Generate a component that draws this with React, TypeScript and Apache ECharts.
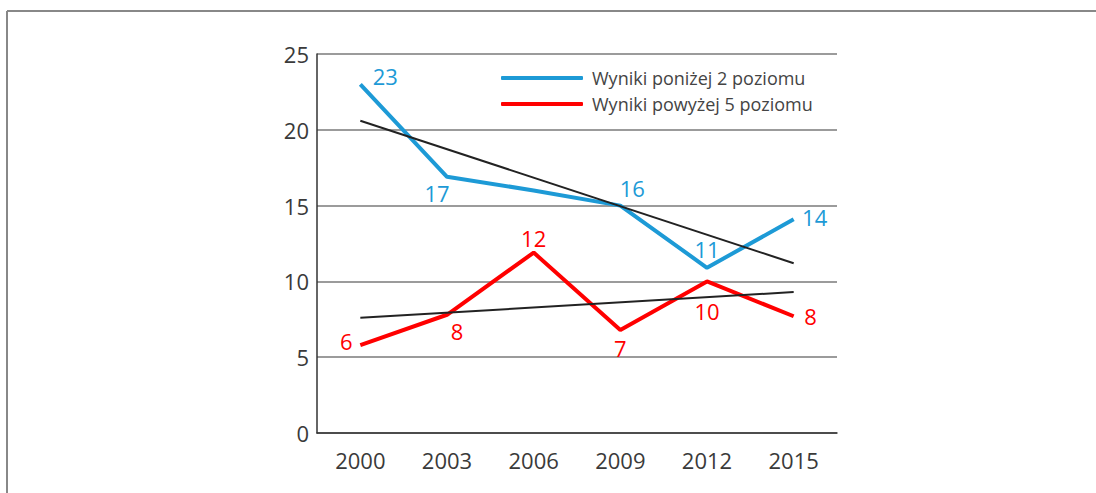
import React, { useEffect, useRef } from "react";
import * as echarts from "echarts";

const years = ["2000", "2003", "2006", "2009", "2012", "2015"];
const belowTwo = [23.0, 16.9, 16.0, 15.0, 10.9, 14.1];
const belowTwoLabels = ["23", "17", "", "16", "11", "14"];
const aboveFive = [5.8, 7.8, 11.9, 6.8, 10.0, 7.7];
const aboveFiveLabels = ["6", "8", "12", "7", "10", "8"];
const belowTwoTrend = [20.6, null, null, null, null, 11.2];
const aboveFiveTrend = [7.6, null, null, null, null, 9.3];
const yTicks = [0, 5, 10, 15, 20, 25];

const BLUE = "#1d9ad6";
const RED = "#ff0000";
const FONT = "'Open Sans', 'Noto Sans', sans-serif";

// label placement (style only)
const blueLabelOffsets: [number, number][] = [[25, -8], [-10, 16], [0, 0], [12, -18], [0, -19], [21, -2]];
const redLabelOffsets: [number, number][] = [[-14, -4], [10, 16], [0, -15], [0, 18], [0, 30], [17, 0]];

export default function App() {
  const ref = useRef<HTMLDivElement>(null);
  useEffect(() => {
    if (!ref.current) return;
    const chart = echarts.init(ref.current, null, { renderer: "svg" });
    const mkData = (vals: number[], labels: string[], offs: [number, number][], color: string) =>
      vals.map((v, i) => ({
        value: v,
        label: {
          show: labels[i] !== "",
          formatter: labels[i],
          position: "inside",
          offset: offs[i],
          color,
          fontSize: 22,
          fontFamily: FONT,
        },
      }));
    chart.setOption({
      animation: false,
      grid: { left: 317, right: 259, top: 54, bottom: 60, containLabel: false },
      legend: {
        data: ["Wyniki poniżej 2 poziomu", "Wyniki powyżej 5 poziomu"],
        orient: "vertical",
        left: 496,
        top: 64,
        itemWidth: 82,
        itemHeight: 4,
        itemGap: 8,
        icon: "roundRect",
        textStyle: { fontSize: 18, color: "#444", fontFamily: FONT, padding: [0, 0, 0, 4] },
      },
      graphic: [
        { type: "line", shape: { x1: 7, y1: 11, x2: 1096, y2: 11 }, style: { stroke: "#888", lineWidth: 2 } },
        { type: "line", shape: { x1: 7, y1: 11, x2: 7, y2: 493 }, style: { stroke: "#888", lineWidth: 2 } },
      ],
      xAxis: {
        type: "category",
        data: years,
        boundaryGap: true,
        axisLine: { lineStyle: { color: "#333", width: 1.5 } },
        axisTick: { show: false },
        axisLabel: { color: "#3a3a3a", fontSize: 22, fontFamily: FONT, margin: 16 },
      },
      yAxis: {
        type: "value",
        min: yTicks[0],
        max: yTicks[yTicks.length - 1],
        interval: 5,
        axisLine: { show: true, lineStyle: { color: "#333", width: 1.5 } },
        axisTick: { show: false },
        axisLabel: { color: "#3a3a3a", fontSize: 22, fontFamily: FONT, margin: 8 },
        splitLine: { lineStyle: { color: "#7a7a7a", width: 1.5 } },
      },
      series: [
        {
          name: "Wyniki poniżej 2 poziomu",
          type: "line",
          data: mkData(belowTwo, belowTwoLabels, blueLabelOffsets, BLUE),
          symbol: "circle",
          symbolSize: 0.1,
          showSymbol: true,
          lineStyle: { color: BLUE, width: 4 },
          itemStyle: { color: BLUE },
          z: 3,
        },
        {
          name: "Wyniki powyżej 5 poziomu",
          type: "line",
          data: mkData(aboveFive, aboveFiveLabels, redLabelOffsets, RED),
          symbol: "circle",
          symbolSize: 0.1,
          showSymbol: true,
          lineStyle: { color: RED, width: 4 },
          itemStyle: { color: RED },
          z: 3,
        },
        {
          name: "trend1",
          type: "line",
          data: belowTwoTrend,
          connectNulls: true,
          symbol: "none",
          lineStyle: { color: "#222", width: 2 },
          z: 4,
        },
        {
          name: "trend2",
          type: "line",
          data: aboveFiveTrend,
          connectNulls: true,
          symbol: "none",
          lineStyle: { color: "#222", width: 2 },
          z: 4,
        },
      ],
    });
    return () => chart.dispose();
  }, []);
  return (
    <div
      ref={ref}
      style={{ position: "fixed", left: 0, top: 0, width: 1096, height: 493, background: "#fff" }}
    />
  );
}
